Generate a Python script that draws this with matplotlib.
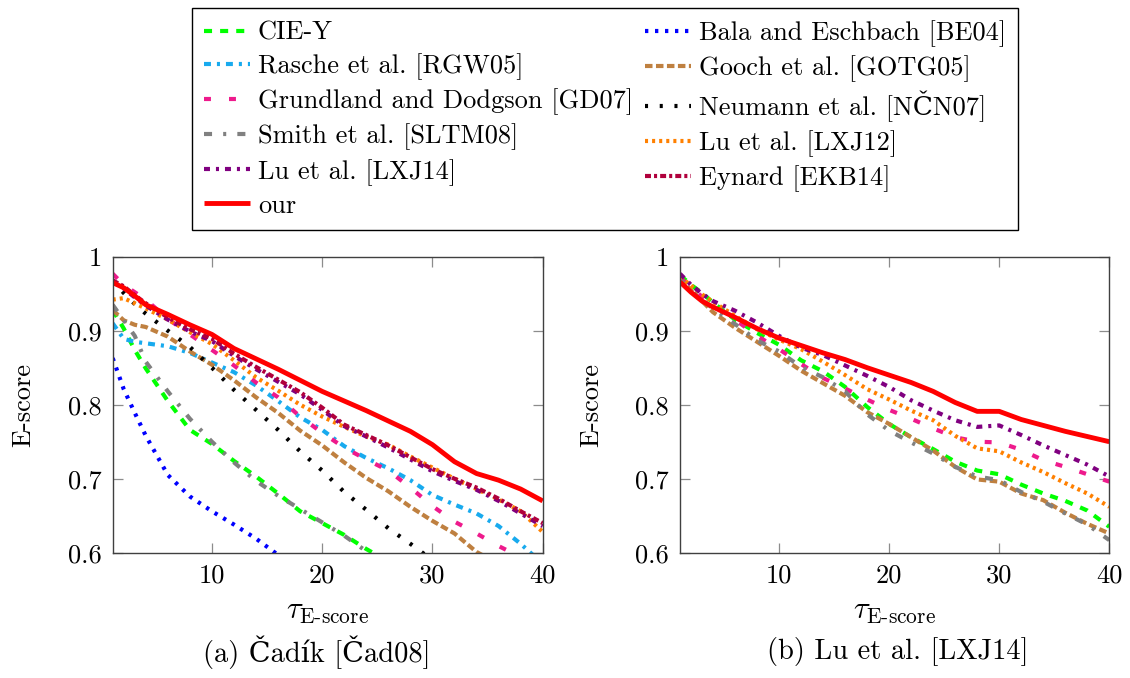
import numpy as np
import matplotlib
matplotlib.use("Agg")
import matplotlib.pyplot as plt
from matplotlib.ticker import FuncFormatter, FixedLocator

plt.rcParams['font.family'] = ['cmr10', 'DejaVu Serif']
plt.rcParams['mathtext.fontset'] = 'cm'
plt.rcParams['axes.formatter.use_mathtext'] = True
plt.rcParams['axes.unicode_minus'] = False
plt.rcParams['lines.scale_dashes'] = False

# ---------------- data ----------------
tau = [1, 2, 3, 4, 6, 8, 10, 12, 14, 16, 18, 20, 22, 24, 26, 28, 30, 32, 34, 36, 38, 40]

# (a) Cadik dataset
cie_a = [0.928, 0.903, 0.874, 0.849, 0.805, 0.766, 0.747, 0.724, 0.703, 0.680, 0.656, 0.640, 0.624, 0.605, 0.588]
bala_a = [0.863, 0.821, 0.789, 0.758, 0.705, 0.676, 0.656, 0.638, 0.619, 0.597, 0.578]
rasche_a = [0.910, 0.889, 0.885, 0.883, 0.879, 0.870, 0.857, 0.844, 0.826, 0.805, 0.783, 0.766, 0.744, 0.728, 0.714, 0.698, 0.678, 0.665, 0.653, 0.636, 0.612, 0.585]
gooch_a = [0.928, 0.914, 0.908, 0.905, 0.892, 0.872, 0.854, 0.833, 0.810, 0.789, 0.765, 0.745, 0.722, 0.701, 0.683, 0.662, 0.643, 0.626, 0.601, 0.585]
grund_a = [0.977, 0.962, 0.952, 0.942, 0.916, 0.895, 0.874, 0.853, 0.830, 0.810, 0.784, 0.762, 0.742, 0.726, 0.711, 0.688, 0.663, 0.642, 0.626, 0.609, 0.594]
neumann_a = [0.968, 0.951, 0.936, 0.923, 0.900, 0.878, 0.850, 0.820, 0.793, 0.766, 0.737, 0.711, 0.682, 0.658, 0.633, 0.612, 0.590]
smith_a = [0.935, 0.914, 0.893, 0.858, 0.818, 0.781, 0.750, 0.722, 0.697, 0.677, 0.659, 0.641, 0.623, 0.602, 0.585]
lxj12_a = [0.942, 0.944, 0.937, 0.930, 0.915, 0.898, 0.882, 0.860, 0.837, 0.819, 0.800, 0.784, 0.770, 0.757, 0.746, 0.730, 0.715, 0.700, 0.686, 0.672, 0.656, 0.628]
lxj14_a = [0.966, 0.957, 0.945, 0.934, 0.915, 0.899, 0.886, 0.866, 0.848, 0.831, 0.814, 0.793, 0.771, 0.757, 0.742, 0.726, 0.710, 0.697, 0.685, 0.670, 0.653, 0.636]
eynard_a = [0.968, 0.960, 0.948, 0.937, 0.918, 0.902, 0.889, 0.869, 0.851, 0.834, 0.817, 0.796, 0.773, 0.759, 0.745, 0.729, 0.713, 0.700, 0.688, 0.673, 0.656, 0.640]
our_a = [0.965, 0.958, 0.947, 0.935, 0.922, 0.908, 0.895, 0.876, 0.862, 0.848, 0.833, 0.818, 0.805, 0.792, 0.778, 0.764, 0.746, 0.723, 0.707, 0.698, 0.686, 0.670]

# (b) Lu et al. dataset
cie_b = [0.975, 0.962, 0.951, 0.938, 0.915, 0.897, 0.881, 0.860, 0.845, 0.824, 0.797, 0.774, 0.756, 0.740, 0.723, 0.711, 0.706, 0.692, 0.680, 0.670, 0.657, 0.635]
gooch_b = [0.971, 0.955, 0.940, 0.925, 0.904, 0.885, 0.866, 0.846, 0.829, 0.812, 0.790, 0.774, 0.756, 0.738, 0.716, 0.699, 0.696, 0.680, 0.671, 0.654, 0.639, 0.626]
grund_b = [0.972, 0.958, 0.946, 0.935, 0.915, 0.893, 0.875, 0.855, 0.836, 0.822, 0.807, 0.793, 0.781, 0.768, 0.756, 0.750, 0.749, 0.739, 0.725, 0.716, 0.706, 0.696]
smith_b = [0.969, 0.955, 0.942, 0.930, 0.909, 0.887, 0.872, 0.851, 0.837, 0.818, 0.787, 0.765, 0.749, 0.734, 0.716, 0.703, 0.698, 0.682, 0.669, 0.653, 0.638, 0.617]
lxj12_b = [0.973, 0.961, 0.949, 0.939, 0.920, 0.902, 0.888, 0.875, 0.858, 0.840, 0.821, 0.807, 0.792, 0.779, 0.758, 0.741, 0.737, 0.722, 0.709, 0.694, 0.680, 0.662]
lxj14_b = [0.977, 0.962, 0.950, 0.940, 0.927, 0.911, 0.893, 0.877, 0.867, 0.853, 0.839, 0.824, 0.806, 0.792, 0.779, 0.770, 0.772, 0.759, 0.745, 0.732, 0.719, 0.703]
our_b = [0.966, 0.952, 0.940, 0.932, 0.918, 0.903, 0.890, 0.880, 0.870, 0.861, 0.850, 0.840, 0.830, 0.818, 0.803, 0.791, 0.791, 0.780, 0.772, 0.764, 0.757, 0.750]

x_ticks = [10, 20, 30, 40]
y_ticks = [0.6, 0.7, 0.8, 0.9, 1.0]

methods = ["CIE-Y", "Bala and Eschbach [BE04]", "Rasche et al. [RGW05]", "Gooch et al. [GOTG05]",
           "Grundland and Dodgson [GD07]", "Neumann et al. [NČN07]", "Smith et al. [SLTM08]",
           "Lu et al. [LXJ12]", "Lu et al. [LXJ14]", "Eynard [EKB14]", "our"]

series_a = [cie_a, bala_a, rasche_a, gooch_a, grund_a, neumann_a, smith_a, lxj12_a, lxj14_a, eynard_a, our_a]
series_b = [cie_b, None, None, gooch_b, grund_b, None, smith_b, lxj12_b, lxj14_b, None, our_b]

# ---------------- styles ----------------
styles = [
    dict(color='#00FF00', dashes=(5.8, 5.8)),
    dict(color='#0000FF', dashes=(2.4, 4.8)),
    dict(color='#18AAEE', dashes=(5.0, 4.3, 2.2, 4.3)),
    dict(color='#BF8040', dashes=(5.4, 2.5)),
    dict(color='#EE1A8C', dashes=(5.0, 13.0)),
    dict(color='#000000', dashes=(2.2, 8.4)),
    dict(color='#808080', dashes=(5.8, 8.0, 2.2, 8.0)),
    dict(color='#FF8000', dashes=(2.2, 2.9)),
    dict(color='#800080', dashes=(4.3, 4.3, 2.2, 4.3)),
    dict(color='#B0003C', dashes=(4.3, 2.2, 2.2, 2.2)),
    dict(color='#FF0000'),
]
LW = 3.0

W, H = 1130, 678
fig = plt.figure(figsize=(W / 100, H / 100), dpi=100)

ax1 = fig.add_axes([112.7 / W, (H - 552.7) / H, 430 / W, 296 / H])
ax2 = fig.add_axes([680 / W, (H - 552.7) / H, 429.3 / W, 296 / H])

handles = []
for ax, series in ((ax1, series_a), (ax2, series_b)):
    for name, vals, st in zip(methods, series, styles):
        if vals is None:
            continue
        lw = 3.5 if name == "our" else LW
        kw = dict(color=st['color'], lw=lw, solid_capstyle='butt', dash_capstyle='butt')
        if 'dashes' in st:
            kw['dashes'] = st['dashes']
        line, = ax.plot(tau[:len(vals)], vals, label=name, **kw)
        if ax is ax1:
            handles.append(line)

for ax in (ax1, ax2):
    ax.set_xlim(1, 40)
    ax.set_ylim(0.6, 1.0)
    ax.xaxis.set_major_locator(FixedLocator(x_ticks))
    ax.yaxis.set_major_locator(FixedLocator(y_ticks))
    ax.yaxis.set_major_formatter(FuncFormatter(lambda v, p: '%g' % v))
    ax.xaxis.set_major_formatter(FuncFormatter(lambda v, p: '%g' % v))
    ax.tick_params(direction='in', length=7.5, width=0.9, color='#8c8c8c',
                   top=True, right=True, labelsize=19, pad=8)
    for sp in ax.spines.values():
        sp.set_color('#404040')
        sp.set_linewidth(1.0)
    ax.set_ylabel('E-score', fontsize=19)
    ax.set_xlabel(r'$\tau_{\text{E-score}}$', fontsize=22, labelpad=8)
    ax.yaxis.set_label_coords(-0.18, 0.5)

fig.text(317 / W, 1 - 652 / H, '(a) Čadík [Čad08]', ha='center', va='center', fontsize=20.5)
fig.text(898 / W, 1 - 652 / H, '(b) Lu et al. [LXJ14]', ha='center', va='center', fontsize=20.5)

# legend: row-major order in reference -> column-major for matplotlib
order = [0, 2, 4, 6, 8, 10, 1, 3, 5, 7, 9]
leg = fig.legend([handles[i] for i in order], [methods[i] for i in order],
                 loc='upper center', bbox_to_anchor=(605 / W, 1 - 8 / H), ncol=2,
                 fontsize=19, frameon=True, fancybox=False, framealpha=1,
                 edgecolor='black', handlelength=1.75, handletextpad=0.3,
                 columnspacing=0.45, labelspacing=0.32, borderpad=0.45, borderaxespad=0)
leg.get_frame().set_linewidth(1.0)

fig.savefig('out.png', dpi=100)
